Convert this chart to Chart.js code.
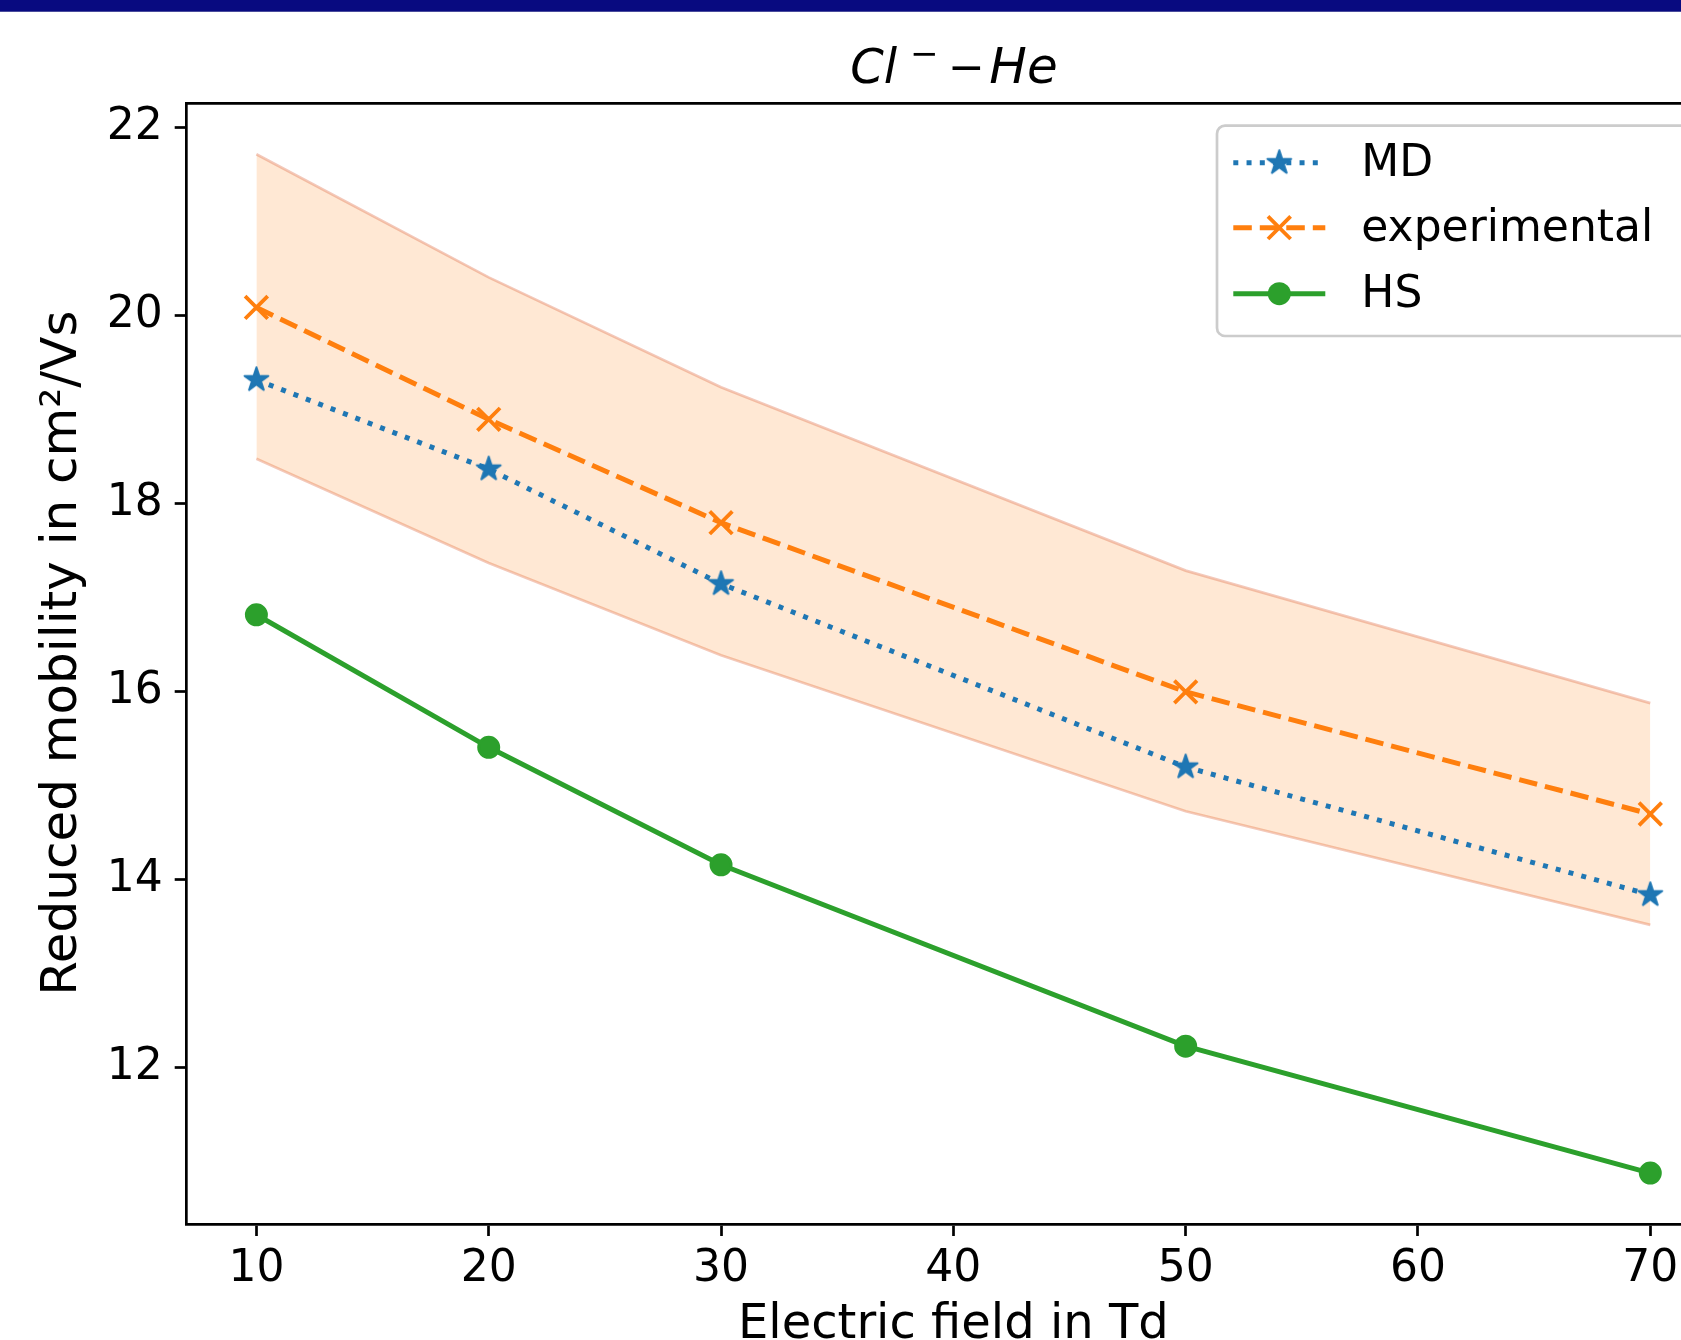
<!DOCTYPE html>
<html>
<head>
<meta charset="utf-8">
<script src="https://cdn.jsdelivr.net/npm/chart.js@4.4.0/dist/chart.umd.min.js"></script>
<style>
  html, body { margin: 0; padding: 0; background: #fff; overflow: hidden; }
  #bar { position: absolute; left: 0; top: 0; width: 100%; height: 11px; background: #080a80; border-bottom: 1px solid #4a4c9c; z-index: 2; }
  #wrap { position: absolute; left: 0; top: 0; width: 1720px; height: 1360px; }
  #chart { display: block; width: 1720px; height: 1360px; }
</style>
</head>
<body>
<div id="bar"></div>
<div id="wrap"><canvas id="chart" width="1720" height="1360"></canvas></div>
<script>
// values
const fieldTd = [10, 20, 30, 50, 70];
const mdValues = [19.32, 18.37, 17.15, 15.2, 13.84];
const expValues = [20.09, 18.9, 17.8, 16.0, 14.7];
const hsValues = [16.82, 15.41, 14.16, 12.23, 10.88];
const expUpper = [21.72, 20.41, 19.24, 17.29, 15.88];
const expLower = [18.48, 17.37, 16.39, 14.73, 13.52];
const xTicks = [10, 20, 30, 40, 50, 60, 70];
const yTicks = [12, 14, 16, 18, 20, 22];
const seriesNames = ["MD", "experimental", "HS"];
const yLabel = "Reduced mobility in cm²/Vs";

const C0 = "#1f77b4";
const C1 = "#ff7f0e";
const C2 = "#2ca02c";

Chart.defaults.font.family = '"DejaVu Sans"';
Chart.defaults.color = "#000";

// matplotlib-like limits (5% margins)
function padRange(vals) {
  const lo = Math.min(...vals);
  const hi = Math.max(...vals);
  const m = (hi - lo) * 0.05;
  return [lo - m, hi + m];
}
const [xMin, xMax] = padRange(fieldTd);
const [yMin, yMax] = padRange([...mdValues, ...expValues, ...hsValues, ...expUpper, ...expLower]);

function makeStar(color, r) {
  const size = Math.ceil(r * 2 + 4);
  const c = document.createElement("canvas");
  c.width = size;
  c.height = size;
  const g = c.getContext("2d");
  g.translate(size / 2, size / 2);
  g.beginPath();
  for (let i = 0; i < 10; i++) {
    const rad = i % 2 === 0 ? r : r * 0.382;
    const a = -Math.PI / 2 + (i * Math.PI) / 5;
    g.lineTo(rad * Math.cos(a), rad * Math.sin(a));
  }
  g.closePath();
  g.fillStyle = color;
  g.fill();
  g.lineJoin = "round";
  g.lineWidth = 2;
  g.strokeStyle = color;
  g.stroke();
  return c;
}
const star = makeStar(C0, 12.5);

const toPoints = (ys) => fieldTd.map((x, i) => ({ x, y: ys[i] }));

function drawMarker(ctx, kind, x, y) {
  ctx.save();
  if (kind === "star") {
    ctx.drawImage(star, x - star.width / 2, y - star.height / 2);
  } else if (kind === "x") {
    const h = 16 * Math.SQRT1_2;
    ctx.strokeStyle = C1;
    ctx.lineWidth = 3.8;
    ctx.beginPath();
    ctx.moveTo(x - h, y - h); ctx.lineTo(x + h, y + h);
    ctx.moveTo(x - h, y + h); ctx.lineTo(x + h, y - h);
    ctx.stroke();
  } else {
    ctx.fillStyle = C2;
    ctx.beginPath();
    ctx.arc(x, y, 11.5, 0, Math.PI * 2);
    ctx.fill();
  }
  ctx.restore();
}

const overlay = {
  id: "overlay",
  afterDraw(chart) {
    const { ctx, chartArea: a } = chart;
    ctx.save();
    // top and right spines
    ctx.strokeStyle = "#000";
    ctx.lineWidth = 2.7;
    ctx.beginPath();
    ctx.moveTo(a.left, a.top);
    ctx.lineTo(a.right, a.top);
    ctx.lineTo(a.right, a.bottom);
    ctx.stroke();

    // legend
    const bx = a.right - 22 - 481;
    const by = a.top + 22.4;
    ctx.fillStyle = "rgba(255,255,255,0.8)";
    ctx.strokeStyle = "#cccccc";
    ctx.lineWidth = 2.7;
    ctx.beginPath();
    ctx.roundRect(bx, by, 481, 210.3, 8);
    ctx.fill();
    ctx.stroke();
    const rows = [37, 102, 168];
    const kinds = ["star", "x", "circle"];
    chart.data.datasets.slice(0, 3).forEach((ds, i) => {
      const y = by + rows[i];
      ctx.save();
      ctx.strokeStyle = ds.borderColor;
      ctx.lineWidth = ds.borderWidth;
      ctx.lineCap = "butt";
      ctx.setLineDash(ds.borderDash || []);
      ctx.beginPath();
      ctx.moveTo(bx + 16.3, y);
      ctx.lineTo(bx + 108.3, y);
      ctx.stroke();
      ctx.restore();
      drawMarker(ctx, kinds[i], bx + 62.3, y);
      ctx.fillStyle = "#000";
      ctx.font = '44px "DejaVu Sans"';
      ctx.textAlign = "left";
      ctx.textBaseline = "middle";
      ctx.fillText(seriesNames[i], bx + 144.3, y + 2);
    });

    // y label
    ctx.save();
    ctx.translate(63.5, (a.top + a.bottom) / 2 - 10.5);
    ctx.rotate(-Math.PI / 2);
    ctx.fillStyle = "#000";
    ctx.font = '50px "DejaVu Sans"';
    ctx.textAlign = "center";
    ctx.textBaseline = "middle";
    ctx.fillText(yLabel, 0, 0);
    ctx.restore();

    // title  Cl⁻ − He
    const cx = (a.left + a.right) / 2;
    ctx.fillStyle = "#000";
    ctx.textBaseline = "alphabetic";
    ctx.font = 'italic 48px "DejaVu Sans"';
    ctx.textAlign = "left";
    ctx.fillText("Cl", cx - 103, 83);
    ctx.font = '34px "DejaVu Sans"';
    ctx.textAlign = "center";
    ctx.fillText("\u2212", cx - 29, 65.2);
    ctx.font = '44px "DejaVu Sans"';
    ctx.fillText("\u2212", cx + 13, 82);
    ctx.font = 'italic 50px "DejaVu Sans"';
    ctx.textAlign = "left";
    ctx.fillText("He", cx + 36, 83);
    ctx.restore();
  },
};

const ctx = document.getElementById("chart").getContext("2d");
new Chart(ctx, {
  type: "line",
  data: {
    datasets: [
      {
        label: seriesNames[0],
        data: toPoints(mdValues),
        borderColor: C0,
        borderWidth: 5,
        borderDash: [5, 8.25],
        borderCapStyle: "butt",
        pointStyle: star,
        pointRadius: 13,
        pointBackgroundColor: C0,
        pointBorderColor: C0,
        fill: false,
        tension: 0,
      },
      {
        label: seriesNames[1],
        data: toPoints(expValues),
        borderColor: C1,
        borderWidth: 5,
        borderDash: [18.5, 8],
        borderCapStyle: "butt",
        pointStyle: "crossRot",
        pointRadius: 16,
        pointBorderWidth: 3.8,
        pointBorderColor: C1,
        pointBackgroundColor: C1,
        fill: false,
        tension: 0,
      },
      {
        label: seriesNames[2],
        data: toPoints(hsValues),
        borderColor: C2,
        borderWidth: 5,
        pointStyle: "circle",
        pointRadius: 10,
        pointBorderWidth: 3,
        pointBackgroundColor: C2,
        pointBorderColor: C2,
        fill: false,
        tension: 0,
      },
      {
        label: "upper",
        data: toPoints(expUpper),
        borderColor: "rgba(225,120,85,0.4)",
        borderWidth: 2.7,
        pointRadius: 0,
        backgroundColor: "rgba(255,127,14,0.18)",
        fill: "+1",
        tension: 0,
      },
      {
        label: "lower",
        data: toPoints(expLower),
        borderColor: "rgba(225,120,85,0.4)",
        borderWidth: 2.7,
        pointRadius: 0,
        fill: false,
        tension: 0,
      },
    ],
  },
  options: {
    responsive: false,
    animation: false,
    devicePixelRatio: 1,
    layout: { autoPadding: false, padding: { top: 103.3, left: 0, right: 0, bottom: 0 } },
    plugins: {
      legend: { display: false },
      tooltip: { enabled: false },
      title: { display: false },
    },
    scales: {
      x: {
        type: "linear",
        min: xMin,
        max: xMax,
        afterBuildTicks: (s) => { s.ticks = xTicks.map((v) => ({ value: v })); },
        afterFit: (s) => {
          s.height = 136;
          s.paddingLeft = 0;
          s.paddingRight = 0;
        },
        grid: { display: true, drawOnChartArea: false, drawTicks: true, tickLength: 12, tickWidth: 2.7, tickColor: "#000" },
        border: { display: true, color: "#000", width: 2.7 },
        ticks: { font: { size: 44 }, color: "#000", padding: 7.5, maxRotation: 0, autoSkip: false },
        title: { display: true, text: "Electric field in Td", font: { size: 48 }, color: "#000", padding: { top: 0, bottom: 5.6 } },
      },
      y: {
        type: "linear",
        min: yMin,
        max: yMax,
        afterBuildTicks: (s) => { s.ticks = yTicks.map((v) => ({ value: v })); },
        afterFit: (s) => {
          s.width = 186.7;
          s.paddingTop = 0;
          s.paddingBottom = 0;
        },
        grid: { display: true, drawOnChartArea: false, drawTicks: true, tickLength: 12, tickWidth: 2.7, tickColor: "#000" },
        border: { display: true, color: "#000", width: 2.7 },
        ticks: { font: { size: 44 }, color: "#000", padding: 12, autoSkip: false },
        title: { display: false },
      },
    },
  },
  plugins: [overlay],
});
</script>
</body>
</html>
